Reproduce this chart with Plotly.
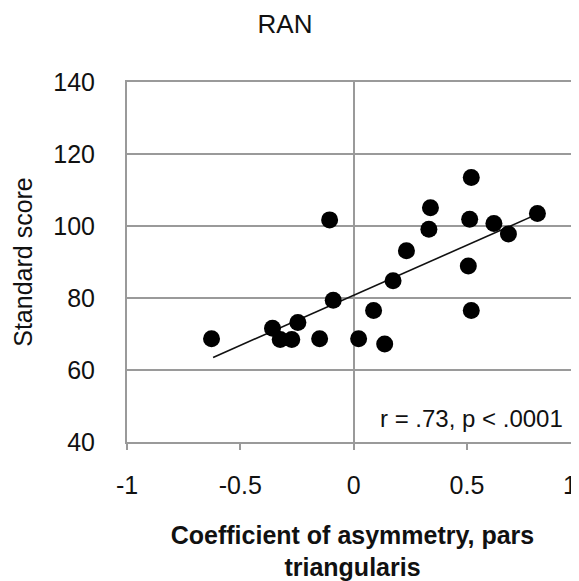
import plotly.graph_objects as go

# Data
asymmetry = [-0.627, -0.358, -0.324, -0.273, -0.246, -0.150, -0.106, -0.090,
             0.022, 0.088, 0.137, 0.174, 0.233, 0.332, 0.339, 0.519,
             0.512, 0.506, 0.519, 0.619, 0.683, 0.811]
standard_score = [68.7, 71.6, 68.5, 68.5, 73.2, 68.7, 101.7, 79.4,
                  68.7, 76.5, 67.2, 84.8, 93.1, 99.1, 105.1, 113.5,
                  101.9, 88.9, 76.5, 100.7, 97.8, 103.5]
trend_x = [-0.62, 0.81]
trend_y = [63.5, 103.3]

x_tick_vals = [-1, -0.5, 0, 0.5]
x_tick_text = ["-1", "-0.5", "0", "0.5"]
y_tick_vals = [40, 60, 80, 100, 120, 140]

title_text = "RAN"
x_title = "<b>Coefficient of asymmetry, pars<br>triangularis</b>"
y_title = "Standard score"
stat_text = "r = .73, p < .0001"

FONT = "Liberation Sans, Arial, sans-serif"
GRID = "#9a9a9a"

# the page body has an 8px margin, so the figure is sized to fit the window
W, H = 571, 573

fig = go.Figure()
fig.add_trace(go.Scatter(x=trend_x, y=trend_y, mode="lines",
                         line=dict(color="#111111", width=1.6),
                         hoverinfo="skip", showlegend=False))
fig.add_trace(go.Scatter(x=asymmetry, y=standard_score, mode="markers",
                         marker=dict(color="#000000", size=17),
                         showlegend=False))

fig.update_layout(
    width=W, height=H,
    margin=dict(l=119, r=1, t=74, b=139),
    paper_bgcolor="white", plot_bgcolor="white",
    font=dict(family=FONT, color="#111111", size=25),
    title=dict(text=title_text, x=(285 - 8) / W, xanchor="center",
               y=1 - 16 / H, yanchor="middle", font=dict(size=26, family=FONT)),
)
fig.update_xaxes(
    range=[-1, 0.99], tickvals=x_tick_vals, ticktext=x_tick_text,
    showgrid=False, zeroline=True, zerolinecolor=GRID, zerolinewidth=1.8,
    showline=True, linecolor=GRID, linewidth=2, mirror=True,
    ticks="outside", ticklen=6, tickcolor=GRID, tickwidth=1.5,
    tickfont=dict(size=25), ticklabelstandoff=14, automargin=False,
    title=dict(text=x_title, font=dict(size=25, family=FONT), standoff=28),
)
fig.update_yaxes(
    range=[40, 140], tickvals=y_tick_vals,
    showgrid=True, gridcolor=GRID, gridwidth=1.8, zeroline=False,
    showline=True, linecolor=GRID, linewidth=2, mirror=True,
    ticks="", tickfont=dict(size=25), ticklabelstandoff=25, automargin=False,
    title=dict(text=y_title, font=dict(size=25, family=FONT), standoff=14),
)
fig.add_annotation(text=stat_text, xref="paper", yref="paper",
                   x=(565 - 127) / 451, y=0.064, xanchor="right", yanchor="middle",
                   showarrow=False, font=dict(size=24, family=FONT))
fig.add_annotation(text="1", xref="paper", yref="paper",
                   x=1.0, y=(442 - 485) / 360, xanchor="right",
                   yanchor="middle", showarrow=False, xshift=1,
                   font=dict(size=25, family=FONT))

fig.write_html("out.html")
